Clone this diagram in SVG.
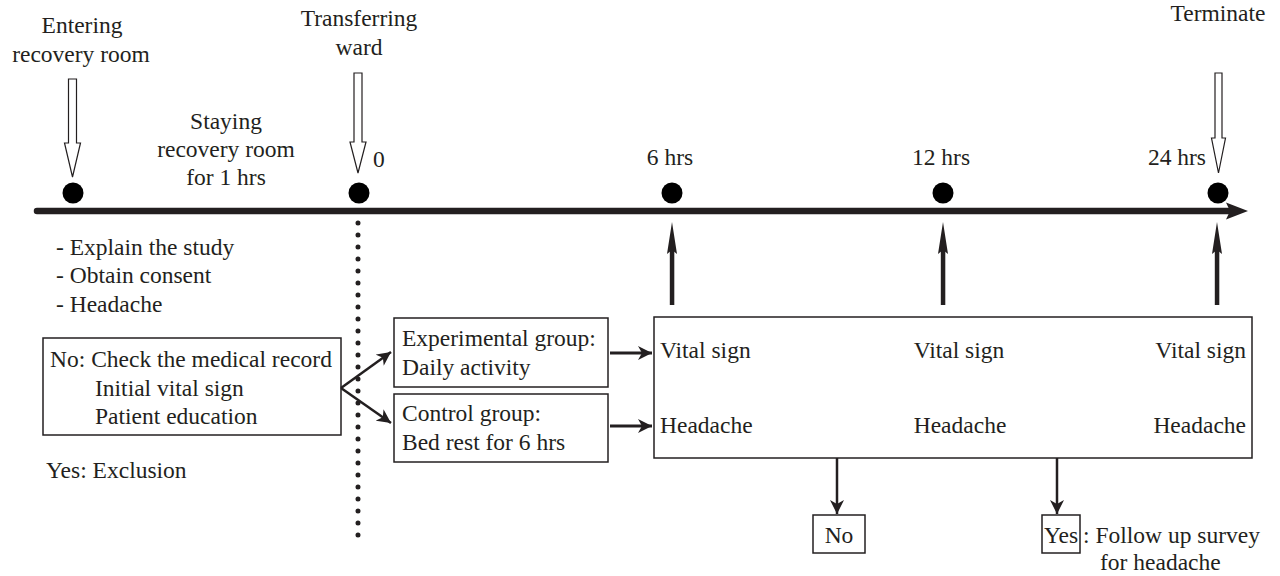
<svg xmlns="http://www.w3.org/2000/svg" width="1280" height="576" viewBox="0 0 1280 576">
<style>
text{font-family:"Liberation Serif","Times New Roman",serif;font-size:23.5px;fill:#231f20}
.c{text-anchor:middle}
.r{text-anchor:end}
.box{fill:#fff;stroke:#231f20;stroke-width:1.5}
.hollow{fill:#fff;stroke:#231f20;stroke-width:1.2}
.ln{stroke:#231f20;fill:none}
.dot{fill:#000}
.hd{fill:#231f20}
</style>
<defs>
<marker id="ah" markerUnits="userSpaceOnUse" markerWidth="16" markerHeight="14" refX="14" refY="7" orient="auto">
<path d="M0,0 L14,7 L0,14 L4,7 Z" fill="#231f20"/>
</marker>
</defs>
<rect width="1280" height="576" fill="#fff"/>

<g id="timeline">
<line x1="37" y1="211" x2="1234" y2="211" stroke="#231f20" stroke-width="6.5" stroke-linecap="round"/>
<path d="M1226,202.5 L1248,211 L1226,219.5 L1230,211 Z" class="hd"/>
<circle class="dot" cx="73" cy="193" r="10.5"/>
<circle class="dot" cx="359" cy="193" r="10.5"/>
<circle class="dot" cx="672" cy="193" r="10.5"/>
<circle class="dot" cx="943" cy="193" r="10.5"/>
<circle class="dot" cx="1218" cy="193" r="10.5"/>
</g>

<g id="entering">
<text class="c" x="82" y="33">Entering</text>
<text class="c" x="81" y="62">recovery room</text>
<path class="hollow" d="M68.5,79 H76.5 V143 H80.5 L72.5,177 L64.5,143 H68.5 Z"/>
</g>

<g id="transferring">
<text class="c" x="359" y="26">Transferring</text>
<text class="c" x="359" y="55">ward</text>
<path class="hollow" d="M354,73 H362 V142 H366 L358,173 L350,142 H354 Z"/>
<text x="373" y="167">0</text>
</g>

<g id="staying">
<text class="c" x="226" y="129">Staying</text>
<text class="c" x="226" y="157">recovery room</text>
<text class="c" x="226" y="185">for 1 hrs</text>
</g>

<g id="terminate">
<text class="c" x="1218" y="21">Terminate</text>
<path class="hollow" d="M1215,73 H1222 V138 H1225.5 L1218.5,173 L1211.5,138 H1215 Z"/>
</g>

<g id="hours">
<text class="c" x="670" y="165">6 hrs</text>
<text class="c" x="941" y="165">12 hrs</text>
<text class="r" x="1206" y="165">24 hrs</text>
</g>

<g id="steps">
<text x="56" y="255">- Explain the study</text>
<text x="56" y="283">- Obtain consent</text>
<text x="56" y="312">- Headache</text>
</g>

<g id="checkbox">
<rect class="box" x="43" y="338" width="298" height="97"/>
<text x="50" y="367">No: Check the medical record</text>
<text x="95" y="396">Initial vital sign</text>
<text x="95" y="424">Patient education</text>
</g>

<g id="exclusion">
<text x="46" y="478">Yes: Exclusion</text>
</g>

<g id="experimental">
<rect class="box" x="394" y="318" width="214" height="69"/>
<text x="402" y="346">Experimental group:</text>
<text x="402" y="375">Daily activity</text>
</g>

<g id="control">
<rect class="box" x="394" y="394" width="214" height="68"/>
<text x="402" y="421">Control group:</text>
<text x="402" y="450">Bed rest for 6 hrs</text>
</g>

<g id="measures">
<rect class="box" x="654" y="317" width="598" height="141"/>
<text x="660" y="358">Vital sign</text>
<text class="c" x="959" y="358">Vital sign</text>
<text class="r" x="1246" y="358">Vital sign</text>
<text x="660" y="433">Headache</text>
<text class="c" x="960" y="433">Headache</text>
<text class="r" x="1246" y="433">Headache</text>
</g>

<g id="no">
<rect class="box" x="813" y="515" width="52" height="38"/>
<text class="c" x="839" y="543">No</text>
</g>

<g id="yes">
<rect class="box" x="1042" y="515" width="38" height="38"/>
<text class="c" x="1061" y="543">Yes</text>
<text x="1083" y="543">: Follow up survey</text>
<text x="1100" y="570">for headache</text>
</g>

<g id="dotted">
<line x1="358" y1="223" x2="358" y2="547" stroke="#231f20" stroke-width="5" stroke-dasharray="0 12" stroke-linecap="round"/>
</g>

<g id="connectors">
<line class="ln" x1="341" y1="388" x2="391" y2="352" stroke-width="2.5" marker-end="url(#ah)"/>
<line class="ln" x1="341" y1="388" x2="391" y2="423" stroke-width="2.5" marker-end="url(#ah)"/>
<line class="ln" x1="610" y1="353" x2="652" y2="353" stroke-width="2.8" marker-end="url(#ah)"/>
<line class="ln" x1="610" y1="426" x2="652" y2="426" stroke-width="2.8" marker-end="url(#ah)"/>
<line class="ln" x1="837" y1="458" x2="837" y2="514" stroke-width="2.5" marker-end="url(#ah)"/>
<line class="ln" x1="1057" y1="458" x2="1057" y2="514" stroke-width="2.5" marker-end="url(#ah)"/>
<g id="up-arrows">
<rect class="hd" x="669.8" y="245" width="4.5" height="60"/>
<path class="hd" d="M672,222 L677,254 L672,250 L667,254 Z"/>
<rect class="hd" x="940.8" y="245" width="4.5" height="60"/>
<path class="hd" d="M943,222 L948,254 L943,250 L938,254 Z"/>
<rect class="hd" x="1214.8" y="245" width="4.5" height="60"/>
<path class="hd" d="M1217,222 L1222,254 L1217,250 L1212,254 Z"/>
</g>
</g>
</svg>
